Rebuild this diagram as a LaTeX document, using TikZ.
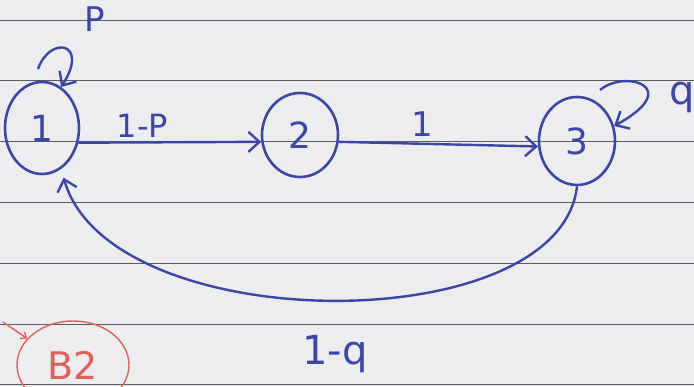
\documentclass[tikz,border=0pt]{standalone}
\usepackage{fontspec}
\setmainfont{DejaVu Sans}
\usetikzlibrary{arrows.meta,shapes.geometric}
\definecolor{ink}{HTML}{3B46A6}
\definecolor{paper}{HTML}{EDEDF0}
\definecolor{rule}{HTML}{5A5A60}
\definecolor{redink}{HTML}{E0605A}
\tikzset{
  st/.style={draw=ink, line width=2.6pt, ellipse, minimum width=#1, inner sep=0pt},
  lbl/.style={text=ink, font=\fontsize{36}{36}\selectfont},
  edge/.style={draw=ink, line width=2.4pt, -{Straight Barb[length=11pt,width=20pt,line width=2.4pt]}},
}
\begin{document}
\begin{tikzpicture}[x=1pt,y=1pt]
\fill[paper] (0,0) rectangle (694,387);
\useasboundingbox (0,0) rectangle (694,387);
\foreach \yy in {20,80,141,202,263,324,384}
  \draw[rule, line width=0.9pt] (0,387-\yy) -- (694,387-\yy);
\node[st=74pt, minimum height=92pt, lbl] (n1) at (42,259) {1};
\node[st=76pt, minimum height=84pt, lbl] (n2) at (300,252) {2};
\node[st=76pt, minimum height=88pt, lbl] (n3) at (577,246) {3};
\draw[edge] (n1.-22) -- (n2.190) node[pos=0.35, above=0pt, lbl, font=\fontsize{32}{32}\selectfont] {1-P};
\draw[edge] (n2.-10) -- (n3.188) node[pos=0.42, above=3pt, lbl, font=\fontsize{34}{34}\selectfont] {1};
\draw[edge, shorten >=9pt] (n3.south) .. controls (560,46) and (110,48) .. (n1.-65);
\node[lbl, font=\fontsize{40}{40}\selectfont] (l3) at (335,33) {1-q};
\coordinate (s1) at (38,318);
\draw[edge] (s1) .. controls (50,352) and (90,345) .. (n1.65);
\node[lbl, font=\fontsize{34}{34}\selectfont] (lp) at (95,368) {P};
\coordinate (s3) at (600,297);
\draw[edge] (s3) .. controls (625,318) and (685,300) .. (n3.22);
\node[lbl, font=\fontsize{40}{40}\selectfont] (lq) at (682,290) {q};
\node[draw=redink, line width=1.4pt, ellipse, minimum width=112pt, minimum height=88pt, text=redink, font=\fontsize{38}{38}\selectfont] (b2) at (73,22) {B2};
\coordinate (ra) at (3,65);
\draw[redink, line width=1.4pt, -{Straight Barb[length=5pt,width=8pt]}] (ra) -- (b2.150);
\end{tikzpicture}
\end{document}
